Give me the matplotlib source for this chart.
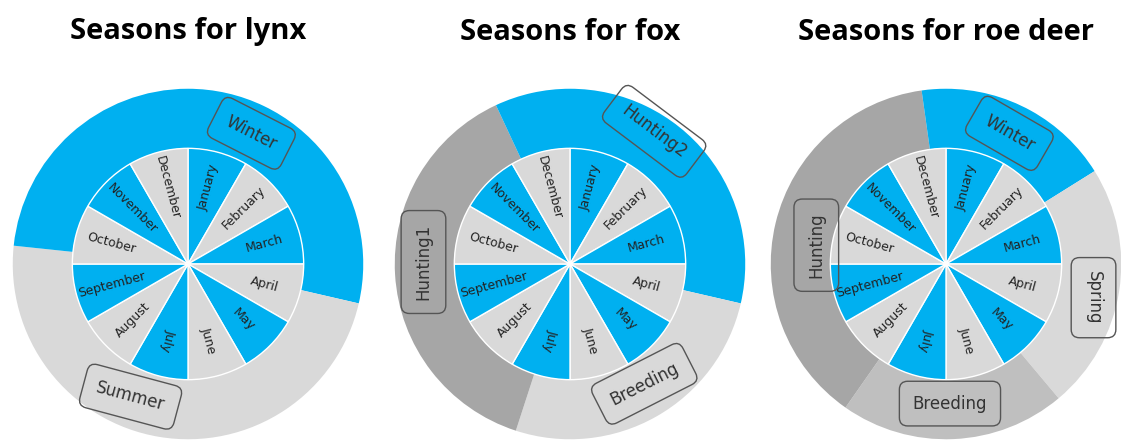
import math
import matplotlib.pyplot as plt

W, H = 1121, 444
BLUE = '#00b0f0'
LIGHT = '#d9d9d9'
MID = '#bfbfbf'
DARK = '#a6a6a6'

months = ['January', 'February', 'March', 'April', 'May', 'June',
          'July', 'August', 'September', 'October', 'November', 'December']
month_colors = [BLUE, LIGHT] * 6

# seasons: clockwise degrees from 12 o'clock
lynx_seasons = ['Winter', 'Summer', 'Winter']
lynx_sizes = [103, 173, 84]
lynx_colors = [BLUE, LIGHT, BLUE]

fox_seasons = ['Hunting2', 'Breeding', 'Hunting1', 'Hunting2']
fox_sizes = [103, 95, 137, 25]
fox_colors = [BLUE, LIGHT, DARK, BLUE]

roe_seasons = ['Winter', 'Spring', 'Breeding', 'Hunting', 'Winter']
roe_sizes = [58, 82, 75, 137, 8]
roe_colors = [BLUE, LIGHT, MID, DARK, BLUE]

# label boxes: (text, x px, y px, rotation)
lynx_boxes = [('Winter', 252, 132, -27), ('Summer', 130, 398, -15)]
fox_boxes = [('Hunting2', 655, 130, -37), ('Hunting1', 422, 262, 90), ('Breeding', 645, 385, 27)]
roe_boxes = [('Winter', 1010, 132, -30), ('Spring', 1095, 298, -90),
             ('Breeding', 950, 405, 0), ('Hunting', 815, 245, 90)]

charts = [
    ('Seasons for lynx', 188, lynx_sizes, lynx_colors, lynx_boxes),
    ('Seasons for fox', 570, fox_sizes, fox_colors, fox_boxes),
    ('Seasons for roe deer', 946, roe_sizes, roe_colors, roe_boxes),
]

fig = plt.figure(figsize=(W / 100, H / 100), dpi=100)
R, cy = 177, 264

for title, cx, sizes, colors, boxes in charts:
    ax = fig.add_axes([(cx - R) / W, (H - cy - R) / H, 2 * R / W, 2 * R / H])
    ax.pie(sizes, colors=colors, radius=1, startangle=90, counterclock=False,
           wedgeprops=dict(width=0.34, edgecolor='none'))
    ax.pie([1] * 12, colors=month_colors, radius=0.66, startangle=90, counterclock=False,
           wedgeprops=dict(edgecolor='white', linewidth=1))
    for i, m in enumerate(months):
        th = 90 - (i * 30 + 15)
        rot = th if -120 <= th <= 90 else th + 180
        r = 0.45
        ax.text(r * math.cos(math.radians(th)), r * math.sin(math.radians(th)), m,
                rotation=rot, ha='center', va='center', fontsize=9, color='#222222',
                rotation_mode='anchor')
    for txt, px, py, rot in boxes:
        ax.text((px - cx) / R, (cy - py) / R, txt, rotation=rot, ha='center', va='center',
                fontsize=12, color='#333333', rotation_mode='anchor',
                bbox=dict(boxstyle='round,pad=0.8,rounding_size=0.5', fc='none',
                          ec='#555555', lw=1))
    ax.set_xlim(-1.01, 1.01)
    ax.set_ylim(-1.01, 1.01)
    ax.set_aspect('equal')
    ax.axis('off')
    fig.text(cx / W, 1 - 32 / H, title, ha='center', va='center', fontsize=21,
             fontweight='bold', family='Open Sans')

fig.savefig('out.png', dpi=100)
